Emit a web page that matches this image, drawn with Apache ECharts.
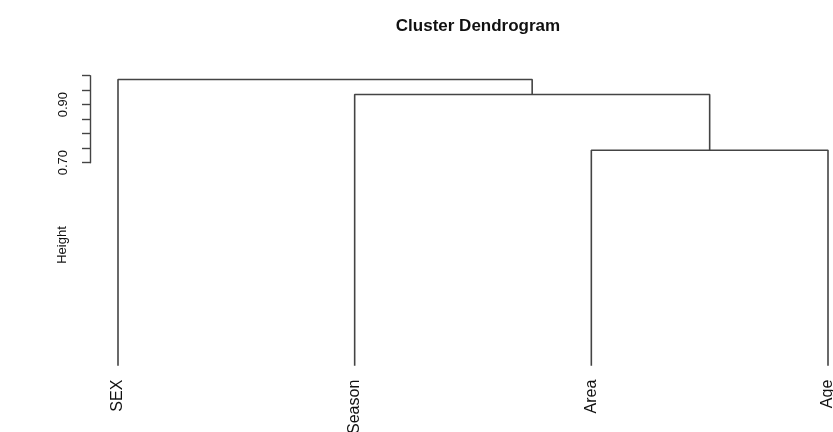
<!DOCTYPE html>
<html>
<head>
<meta charset="utf-8">
<script src="https://cdn.jsdelivr.net/npm/echarts@6/dist/echarts.min.js"></script>
<style>
  html, body { margin: 0; padding: 0; background: #fff; }
  #chart { width: 833px; height: 432px; }
</style>
</head>
<body>
<div id="chart"></div>
<script>
// leaf labels in plotting order
var labels = ['SEX', 'Season', 'Area', 'Age']
// hclust-style merge table: negative = leaf (1-based), positive = earlier merge
var merges = [[-3, -4], [-2, 1], [-1, 2]]
var mergeHeights = [0.743, 0.935, 0.987]
// height axis ticks drawn by R
var tickMin = 0.70
var tickMax = 1.00
var tickStep = 0.05
var tickLabelsShown = ['0.70', '0.90']

var gridTop = 75.7
var gridBottom = 66.3
var plotH = 432 - gridTop - gridBottom

// build node positions
var leafOrder = {}
labels.forEach(function (l, i) { leafOrder[i + 1] = i + 1 })
var nodes = []
function nodeOf(ref) {
  if (ref < 0) return { x: leafOrder[-ref], h: 0 }
  return nodes[ref - 1]
}
var series = []
merges.forEach(function (m, k) {
  var a = nodeOf(m[0])
  var b = nodeOf(m[1])
  var h = mergeHeights[k]
  nodes.push({ x: (a.x + b.x) / 2, h: h })
  series.push({
    type: 'line',
    xAxisIndex: 0,
    yAxisIndex: 0,
    data: [[a.x, a.h], [a.x, h], [b.x, h], [b.x, b.h]],
    symbol: 'none',
    silent: true,
    lineStyle: { color: '#444', width: 1.6 }
  })
})

var chart = echarts.init(document.getElementById('chart'))
chart.setOption({
  animation: false,
  backgroundColor: '#fff',
  textStyle: { fontFamily: 'Liberation Sans, Arial, sans-serif', color: '#000' },
  title: {
    text: 'Cluster Dendrogram',
    left: 473,
    top: 13,
    textAlign: 'center',
    textStyle: { fontSize: 17, fontWeight: 'bold', color: '#111', fontFamily: 'Liberation Sans, Arial, sans-serif' }
  },
  graphic: [{
    type: 'text',
    x: 62,
    y: 245,
    rotation: Math.PI / 2,
    style: {
      text: 'Height',
      fill: '#111',
      font: '13px "Liberation Sans", Arial, sans-serif',
      align: 'center',
      verticalAlign: 'middle'
    }
  }],
  grid: [
    { left: 118, right: 5, top: gridTop, bottom: gridBottom, containLabel: false, outerBoundsMode: 'none' },
    { left: 90, width: 1, top: gridTop + (1 - tickMax) * plotH, height: (tickMax - tickMin) * plotH, containLabel: false, outerBoundsMode: 'none' }
  ],
  xAxis: [{
    type: 'value',
    gridIndex: 0,
    min: 1,
    max: labels.length,
    interval: 1,
    splitLine: { show: false },
    axisLine: { show: false },
    axisTick: { show: false },
    axisLabel: {
      rotate: 90,
      margin: 14,
      fontSize: 16,
      color: '#111',
      formatter: function (v) { return labels[v - 1] || '' }
    }
  }, {
    type: 'value',
    gridIndex: 1,
    show: false
  }],
  yAxis: [{
    type: 'value',
    gridIndex: 0,
    min: 0,
    max: 1,
    show: false
  }, {
    type: 'value',
    gridIndex: 1,
    min: tickMin,
    max: tickMax,
    interval: tickStep,
    splitLine: { show: false },
    axisLine: { show: true, lineStyle: { color: '#444', width: 1.4 } },
    axisTick: { show: true, length: 8, lineStyle: { color: '#444', width: 1.4 } },
    axisLabel: {
      rotate: 90,
      margin: 20,
      fontSize: 13,
      color: '#111',
      formatter: function (v) {
        var s = v.toFixed(2)
        return tickLabelsShown.indexOf(s) >= 0 ? s : ''
      }
    }
  }],
  series: series
})
</script>
</body>
</html>
